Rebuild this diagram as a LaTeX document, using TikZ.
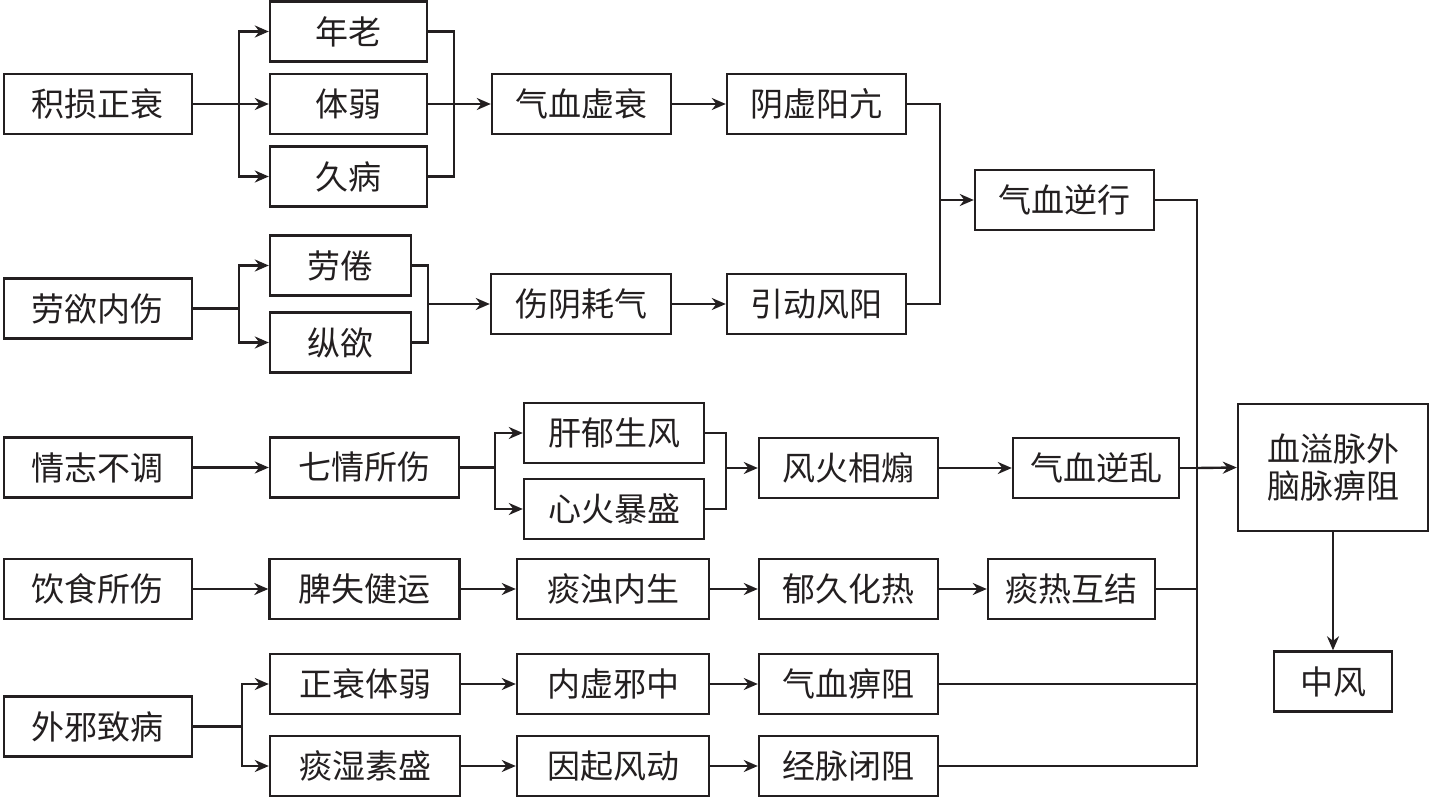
\documentclass[tikz,border=0pt]{standalone}
\usepackage{fontspec}
\setmainfont{Noto Sans CJK SC}
\usetikzlibrary{arrows.meta}
\definecolor{inkline}{HTML}{231F20}
\newcommand{\causebox}[4]{%
  \node[cause, minimum width=#3] (#1) at (#2) {#4};}

\begin{document}
\begin{tikzpicture}[x=0.5pt, y=-0.5pt, line width=1.2pt,
    cause/.style={draw=inkline, minimum height=30pt, inner sep=0pt,
      text=inkline, align=center, font=\fontsize{16.5}{18.5}\selectfont},
    flow/.style={-{Stealth[length=7pt, width=6pt]}, draw=inkline},
    link/.style={draw=inkline}]
  \useasboundingbox (0,0) rectangle (1429,797);

  % first cause
  \causebox{jisun}{98,104}{94pt}{积损正衰}
  \causebox{nianlao}{348.5,31.5}{78.5pt}{年老}
  \causebox{tiruo}{348.5,104}{78.5pt}{体弱}
  \causebox{jiubing}{348.5,176.5}{78.5pt}{久病}
  \causebox{qxxs}{581.5,104}{89.5pt}{气血虚衰}
  \causebox{yxyk}{816.5,104}{89.5pt}{阴虚阳亢}
  \causebox{qxnx}{1064.5,200}{89.5pt}{气血逆行}

  % second cause
  \causebox{laoyu}{98,308.5}{94pt}{劳欲内伤}
  \causebox{laojuan}{340.5,265.5}{70.5pt}{劳倦}
  \causebox{zongyu}{340.5,342.5}{70.5pt}{纵欲}
  \causebox{shangyin}{581,304}{90pt}{伤阴耗气}
  \causebox{yindong}{816.5,304}{89.5pt}{引动风阳}

  % third cause
  \causebox{qingzhi}{98,467.5}{94pt}{情志不调}
  \causebox{qiqing}{364.5,467.5}{94.5pt}{七情所伤}
  \causebox{ganyu}{614,433}{90pt}{肝郁生风}
  \causebox{xinhuo}{614,509}{90pt}{心火暴盛}
  \causebox{fenghuo}{848.5,468}{89.5pt}{风火相煽}
  \causebox{qxnl}{1096,468}{83pt}{气血逆乱}

  % fourth cause
  \causebox{yinshi}{98,589}{94pt}{饮食所伤}
  \causebox{pishi}{364.5,589}{95pt}{脾失健运}
  \causebox{tanzhuo}{613,589}{96pt}{痰浊内生}
  \causebox{yujiu}{848.5,589}{89.5pt}{郁久化热}
  \causebox{tanre}{1071.5,589}{83.5pt}{痰热互结}

  % fifth cause
  \causebox{waixie}{98,726.5}{94pt}{外邪致病}
  \causebox{zhengshuai}{365,684}{95pt}{正衰体弱}
  \causebox{tanshi}{365,766}{95pt}{痰湿素盛}
  \causebox{neixu}{613,684}{96pt}{内虚邪中}
  \causebox{yinqi}{613,766}{96pt}{因起风动}
  \causebox{qixuebi}{848.5,684}{89.5pt}{气血痹阻}
  \causebox{jingmai}{848.5,766}{89.5pt}{经脉闭阻}

  % outcome
  \node[cause, minimum width=95pt, minimum height=63.5pt] (xueyi) at (1333,467.5)
    {血溢脉外\\脑脉痹阻};
  \causebox{zhongfeng}{1333,681.5}{59pt}{中风}

  % forks and joins
  \coordinate (forkA) at (239,104);
  \coordinate (joinA) at (454,104);
  \coordinate (forkB) at (239,308.5);
  \coordinate (joinB) at (428,304);
  \coordinate (joinQ) at (940,200);
  \coordinate (forkC) at (495,467.5);
  \coordinate (joinC) at (726,468);
  \coordinate (forkE) at (242,726.5);
  \coordinate (busTop) at (1197,200);
  \coordinate (busBot) at (1197,766);
  \coordinate (busMid) at (1197,468);

  \draw[link] (jisun.east) -- (forkA);
  \draw[flow] (forkA) |- (nianlao.west);
  \draw[flow] (forkA) -- (tiruo.west);
  \draw[flow] (forkA) |- (jiubing.west);
  \draw[link] (nianlao.east) -| (joinA);
  \draw[link] (jiubing.east) -| (joinA);
  \draw[link] (tiruo.east) -- (joinA);
  \draw[flow] (joinA) -- (qxxs.west);
  \draw[flow] (qxxs) -- (yxyk);

  \draw[link] (laoyu.east) -- (forkB);
  \draw[flow] (forkB) |- (laojuan.west);
  \draw[flow] (forkB) |- (zongyu.west);
  \draw[link] (laojuan.east) -| (joinB);
  \draw[link] (zongyu.east) -| (joinB);
  \draw[flow] (joinB) -- (shangyin.west);
  \draw[flow] (shangyin) -- (yindong);

  \draw[link] (yxyk.east) -| (joinQ);
  \draw[link] (yindong.east) -| (joinQ);
  \draw[flow] (joinQ) -- (qxnx.west);

  \draw[flow] (qingzhi) -- (qiqing);
  \draw[link] (qiqing.east) -- (forkC);
  \draw[flow] (forkC) |- (ganyu.west);
  \draw[flow] (forkC) |- (xinhuo.west);
  \draw[link] (ganyu.east) -| (joinC);
  \draw[link] (xinhuo.east) -| (joinC);
  \draw[flow] (joinC) -- (fenghuo.west);
  \draw[flow] (fenghuo) -- (qxnl);

  \draw[flow] (yinshi) -- (pishi);
  \draw[flow] (pishi) -- (tanzhuo);
  \draw[flow] (tanzhuo) -- (yujiu);
  \draw[flow] (yujiu) -- (tanre);

  \draw[link] (waixie.east) -- (forkE);
  \draw[flow] (forkE) |- (zhengshuai.west);
  \draw[flow] (forkE) |- (tanshi.west);
  \draw[flow] (zhengshuai) -- (neixu);
  \draw[flow] (tanshi) -- (yinqi);
  \draw[flow] (neixu) -- (qixuebi);
  \draw[flow] (yinqi) -- (jingmai);

  % collecting bus
  \draw[link] (qxnx.east) -| (busBot) -- (jingmai.east);
  \draw[link] (tanre.east) -- (tanre.east -| busTop);
  \draw[link] (qixuebi.east) -- (qixuebi.east -| busTop);
  \draw[link] (qxnl.east) -- (busMid);
  \draw[flow] (busMid) -- (xueyi.west);
  \draw[flow] (xueyi) -- (zhongfeng);
\end{tikzpicture}
\end{document}
